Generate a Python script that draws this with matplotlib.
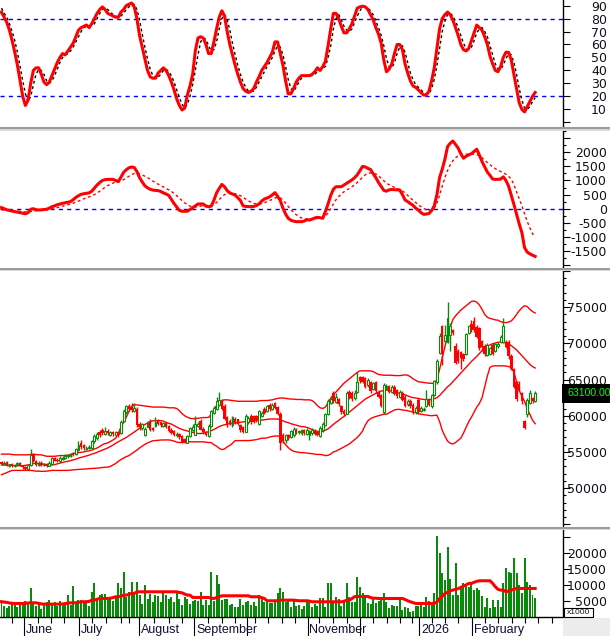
import numpy as np
import matplotlib
matplotlib.use("Agg")
import matplotlib.pyplot as plt
import matplotlib.transforms as mtransforms
from matplotlib.patches import Rectangle
from matplotlib.ticker import MultipleLocator

# ---------------- data (one value per trading day) ----------------
opens = [
    53600, 53300, 53600, 53100, 53300, 53000, 53300, 53500, 53100, 52900,
    52700, 53200, 54600, 53700, 53200, 53500, 53200, 53300, 53100, 53400,
    54100, 53900, 53700, 54000, 54100, 54400, 54400, 54900, 54700, 55300,
    56200, 55900, 55400, 55500, 55600, 56500, 56900, 57800, 58100, 57500,
    57900, 57400, 57700, 57400, 57700, 57600, 59300, 60500, 61300, 61200,
    60700, 61000, 58900, 58300, 57400, 58500, 59300, 58300, 58600, 59300,
    59100, 58600, 59000, 58600, 58100, 57900, 57300, 57500, 57200, 56800,
    56300, 57200, 58000, 57400, 58600, 59300, 58200, 57700, 57200, 58600,
    60400, 60900, 61500, 62100, 61400, 59800, 59300, 58700, 59600, 59500,
    58700, 58400, 57800, 59100, 60000, 59900, 60000, 58900, 60000, 61000,
    60700, 61500, 61000, 61700, 61200, 60300, 57300, 56600, 57300, 57000,
    57300, 58100, 57700, 57600, 58000, 57500, 57300, 57600, 58000, 57700,
    57200, 58000, 58700, 60200, 61800, 63100, 61900, 62300, 61300, 60700,
    60300, 63300, 63200, 62400, 63300, 65300, 65300, 65200, 64200, 64600,
    63700, 64600, 63300, 62800, 60500, 63700, 64100, 63300, 64000, 63500,
    62600, 63200, 62600, 61600, 62100, 61500, 60500, 62200, 60700, 60800,
    61400, 62300, 61300, 62900, 64600, 68700, 72400, 70300, 70200, 71200,
    71900, 69600, 69000, 68800, 68500, 68600, 71500, 72700, 73100, 72300,
    72100, 70300, 69700, 68400, 68600, 69800, 69000, 69600, 70200, 70200,
    70200, 70200, 68300, 66400, 64600, 64400, 63100, 59300, 60200, 61800,
    62400, 62000]
highs = [
    53800, 53700, 53700, 53400, 53500, 53400, 53600, 53600, 53200, 53000,
    53300, 55400, 54800, 53900, 53700, 53700, 53500, 53500, 53700, 54300,
    54300, 54100, 54400, 54500, 54700, 54700, 54900, 55000, 55600, 56500,
    56600, 56100, 55800, 55900, 56700, 57500, 57700, 58100, 58300, 58500,
    58200, 57900, 57900, 57900, 57800, 59400, 60900, 61500, 61600, 61700,
    61700, 61200, 59100, 59000, 58400, 59300, 59500, 58500, 59800, 59500,
    59200, 59200, 59200, 58700, 58300, 58000, 57700, 57600, 57300, 56900,
    57400, 58500, 58800, 60000, 59100, 59500, 58400, 57900, 58800, 60800,
    61400, 62600, 63300, 62300, 61600, 60000, 59500, 60000, 59800, 59600,
    58900, 58600, 60300, 60000, 60200, 60100, 60100, 60800, 60700, 61200,
    61500, 61700, 61800, 61900, 61400, 60500, 57600, 57500, 57500, 58100,
    58400, 58300, 58100, 58200, 58200, 58300, 58100, 58300, 58200, 57900,
    58600, 59100, 60400, 62300, 62700, 63400, 63200, 62500, 61500, 60900,
    63400, 63500, 63400, 63500, 66000, 65500, 65500, 65400, 65200, 64800,
    64700, 64800, 63500, 63000, 64500, 64400, 64300, 64200, 64200, 63700,
    63500, 63400, 62800, 62300, 62300, 61700, 61300, 62400, 61300, 61200,
    63500, 62500, 63000, 65000, 67800, 71400, 72600, 72600, 75700, 72800,
    72000, 70000, 69200, 69000, 68700, 71500, 72600, 73200, 73600, 72500,
    72300, 70500, 69900, 70100, 69500, 70000, 70100, 70200, 71100, 73500,
    70400, 70400, 68500, 66600, 64800, 64800, 63300, 59400, 62400, 63600,
    62600, 63400]
lows = [
    53200, 53200, 53000, 52900, 52900, 52900, 53200, 53000, 52700, 52500,
    52600, 53100, 53600, 53100, 53000, 53000, 53100, 52900, 53000, 53300,
    53700, 53600, 53600, 53900, 54000, 54200, 54300, 54400, 54600, 55100,
    55400, 55300, 55200, 55400, 55500, 56300, 56700, 57100, 57400, 57300,
    57300, 57200, 57200, 57300, 57100, 57500, 59100, 60300, 60700, 60500,
    60500, 58500, 58100, 58100, 57200, 58400, 57900, 57900, 58500, 58700,
    58500, 58400, 58300, 57800, 57500, 57200, 57100, 56800, 56200, 56200,
    56200, 57100, 57900, 57300, 58400, 58000, 57500, 57200, 57000, 58500,
    60200, 60800, 61300, 60800, 59400, 58500, 58700, 58500, 58800, 58700,
    57700, 57600, 57700, 58900, 58900, 59000, 59200, 58700, 59800, 60200,
    60500, 60700, 60800, 60900, 60100, 55300, 56300, 56300, 56600, 56900,
    57100, 57500, 57500, 57400, 57400, 57300, 56700, 57400, 57300, 57200,
    57000, 57800, 58600, 60100, 61600, 61800, 61700, 61400, 60200, 60000,
    60200, 62300, 62100, 62200, 63100, 64500, 64500, 63800, 64000, 63200,
    63500, 63200, 62400, 61200, 60300, 63500, 63100, 63100, 62800, 62500,
    62400, 62000, 61200, 61400, 61100, 60200, 60300, 60300, 60500, 60600,
    61200, 61300, 61100, 62700, 64400, 68500, 67000, 70100, 70000, 69000,
    71200, 67100, 67300, 66400, 67600, 68400, 71300, 71600, 71600, 70700,
    69100, 68900, 68300, 68200, 68400, 68400, 68800, 69400, 70000, 70000,
    69300, 67900, 66300, 63800, 62000, 63400, 61600, 58200, 59800, 61600,
    61800, 61900]
closes = [
    53300, 53500, 53100, 53300, 53000, 53200, 53400, 53100, 52900, 52700,
    53200, 54600, 53700, 53200, 53400, 53200, 53300, 53100, 53500, 54100,
    53800, 53800, 54200, 54200, 54400, 54500, 54700, 54600, 55400, 55900,
    55700, 55500, 55600, 55700, 56500, 57200, 57500, 57300, 57600, 57900,
    57600, 57700, 57500, 57700, 57300, 59200, 60600, 61300, 60900, 60800,
    61100, 58700, 58400, 58800, 58200, 59100, 58000, 58100, 59200, 58900,
    58700, 59000, 58500, 57900, 57600, 57400, 57500, 57000, 56400, 56300,
    57200, 58300, 58400, 58800, 58900, 58100, 57700, 57400, 58600, 60600,
    61100, 62000, 62200, 61000, 59600, 58700, 58900, 59800, 59000, 58900,
    58000, 57800, 60000, 59700, 59100, 59200, 59400, 60600, 60400, 60400,
    61300, 60900, 61500, 61100, 60300, 56300, 56700, 57300, 56900, 57900,
    58200, 57700, 57900, 58000, 57600, 58000, 57900, 58100, 57500, 57400,
    58300, 58900, 60200, 62000, 62300, 62000, 62600, 61600, 60500, 60300,
    63200, 62500, 62300, 63200, 64600, 64800, 64700, 64000, 65000, 63400,
    64500, 63400, 62600, 61400, 64300, 64100, 63300, 64000, 63000, 62700,
    63300, 62200, 61400, 62100, 61300, 60500, 61100, 60500, 61100, 61000,
    62300, 61500, 62800, 64800, 67500, 71000, 68700, 71200, 73500, 72400,
    71400, 67300, 67500, 68000, 67800, 71300, 72400, 71800, 71800, 70900,
    69300, 69500, 68500, 69800, 69300, 68600, 69900, 69900, 70900, 72400,
    69500, 68300, 66500, 64000, 62300, 63600, 62000, 58300, 62200, 63100,
    62000, 63100]

bb_upper = [
    54700, 54700, 54700, 54700, 54650, 54600, 54600, 54600, 54600, 54600,
    54600, 54650, 54650, 54650, 54600, 54600, 54500, 54400, 54400, 54400,
    54400, 54450, 54500, 54500, 54500, 54550, 54650, 54750, 54850, 54900,
    54950, 55000, 55100, 55150, 55250, 55400, 55550, 55750, 56000, 56150,
    56250, 56450, 56650, 56900, 57600, 58400, 59100, 59800, 60600, 61300,
    61550, 61500, 61450, 61400, 61350, 61300, 61250, 61200, 61200, 61200,
    61200, 61200, 61150, 61100, 61100, 61100, 61000, 60700, 60300, 60000,
    59800, 59650, 59600, 59600, 59650, 59700, 59750, 59750, 59770, 60200,
    60800, 61400, 61800, 62100, 62200, 62200, 62150, 62100, 62050, 62000,
    62000, 62000, 62000, 62000, 62000, 62000, 62000, 62050, 62100, 62100,
    62100, 62150, 62200, 62300, 62400, 62450, 62450, 62400, 62350, 62300,
    62300, 62250, 62250, 62250, 62200, 62200, 62200, 62100, 61800, 61400,
    61100, 61000, 61200, 61800, 62400, 62900, 63300, 63700, 64100, 64500,
    64800, 65100, 65400, 65700, 66000, 66200, 66200, 66200, 66200, 66200,
    66100, 65900, 65700, 65650, 65600, 65600, 65600, 65600, 65550, 65550,
    65550, 65600, 65650, 65600, 65400, 65100, 64900, 64700, 64650, 64600,
    64550, 64500, 64480, 64480, 65000, 66400, 68000, 69500, 71000, 72200,
    73300, 73800, 74200, 74600, 74900, 75200, 75500, 75800, 75850, 75700,
    75300, 74700, 74000, 73600, 73450, 73350, 73250, 73200, 73000, 72900,
    72870, 72950, 73100, 73500, 74000, 74500, 74900, 75200, 75100, 74700,
    74400, 74200]
bb_middle = [
    53200, 53200, 53200, 53150, 53150, 53100, 53100, 53100, 53100, 53150,
    53200, 53300, 53400, 53430, 53400, 53350, 53300, 53250, 53200, 53200,
    53250, 53350, 53450, 53550, 53650, 53700, 53800, 53900, 54000, 54150,
    54250, 54350, 54450, 54550, 54700, 54800, 54950, 55100, 55250, 55400,
    55550, 55750, 55950, 56200, 56400, 56600, 56800, 57000, 57250, 57500,
    57750, 58000, 58300, 58550, 58800, 59000, 59200, 59300, 59330, 59330,
    59330, 59250, 59100, 58950, 58850, 58650, 58450, 58250, 58100, 58000,
    57900, 57800, 57700, 57600, 57550, 57550, 57600, 57700, 57800, 57950,
    58100, 58300, 58500, 58650, 58750, 58850, 58900, 58950, 59000, 59050,
    59100, 59150, 59200, 59250, 59300, 59330, 59350, 59400, 59400, 59450,
    59500, 59550, 59550, 59550, 59550, 59450, 59300, 59150, 59050, 58900,
    58800, 58700, 58600, 58500, 58480, 58400, 58250, 58100, 57950, 57850,
    57820, 57850, 58000, 58200, 58500, 58800, 59100, 59350, 59650, 59900,
    60200, 60500, 60800, 61100, 61400, 61700, 62000, 62300, 62500, 62700,
    62900, 63100, 63250, 63400, 63500, 63550, 63500, 63400, 63300, 63200,
    63100, 63000, 62900, 62750, 62600, 62500, 62450, 62400, 62300, 62250,
    62210, 62200, 62250, 62350, 62500, 62800, 63200, 63600, 64000, 64300,
    64700, 65100, 65500, 65900, 66300, 66700, 67100, 67500, 67850, 68200,
    68600, 69000, 69350, 69600, 69800, 69950, 70050, 70150, 70200, 70150,
    70050, 69900, 69700, 69400, 69100, 68700, 68300, 67900, 67500, 67100,
    66800, 66600]
bb_lower = [
    51850, 52000, 52150, 52300, 52450, 52450, 52450, 52450, 52450, 52450,
    52450, 52450, 52400, 52350, 52350, 52320, 52320, 52350, 52400, 52450,
    52450, 52450, 52450, 52450, 52450, 52450, 52480, 52520, 52560, 52580,
    52600, 52620, 52650, 52700, 52720, 52750, 52760, 52800, 52850, 52890,
    52900, 53000, 53200, 53400, 53700, 53950, 54150, 54350, 54500, 54750,
    55000, 55250, 55550, 55800, 56050, 56250, 56400, 56550, 56570, 56600,
    56650, 56660, 56660, 56660, 56600, 56500, 56350, 56310, 56310, 56350,
    56400, 56400, 56400, 56400, 56400, 56400, 56400, 56350, 56300, 56300,
    56000, 55800, 55500, 55330, 55400, 55700, 55900, 56200, 56570, 56570,
    56570, 56570, 56570, 56570, 56600, 56650, 56700, 56800, 56900, 56900,
    56950, 57050, 57150, 57200, 57200, 57150, 56500, 56000, 55600, 55300,
    55100, 55000, 54950, 54900, 54890, 54850, 54800, 54750, 54700, 54650,
    54660, 54600, 54500, 54530, 54700, 55000, 55110, 55300, 55500, 55700,
    55900, 56100, 56400, 56700, 57000, 57400, 57900, 58700, 59300, 59600,
    59770, 59900, 60000, 60100, 60210, 60210, 60400, 60600, 60800, 60880,
    60880, 60800, 60750, 60700, 60600, 60500, 60440, 60300, 60210, 60150,
    60100, 60050, 60000, 60050, 60080, 59200, 58000, 57200, 56500, 56200,
    56100, 56300, 56600, 56900, 57600, 58400, 59200, 59800, 60500, 61200,
    61700, 62500, 64000, 65500, 66700, 66870, 66900, 66900, 66900, 66900,
    66870, 66800, 66650, 66000, 64700, 63500, 62700, 62000, 61000, 60200,
    59400, 58900]

stoch_k = [
    85, 81, 77, 71, 63, 54, 44, 32, 20, 13,
    17, 30, 40, 42, 42, 37, 31, 29, 31, 36,
    41, 46, 50, 53, 52, 55, 58, 61, 66, 71,
    73, 74, 75, 73, 76, 80, 84, 87, 89, 87,
    84, 83, 82, 81, 81, 85, 87, 90, 91, 92,
    89, 80, 67, 58, 49, 40, 35, 34, 34, 38,
    40, 42, 40, 36, 31, 25, 18, 13, 9.5, 11,
    21, 28, 37, 55, 65, 66, 65, 60, 53, 53,
    62, 72, 81, 86, 82, 70, 60, 52, 44, 37,
    31, 26, 24, 23, 24, 26, 31, 35, 40, 43,
    46, 50, 54, 62, 62, 53, 44, 32, 22, 22,
    26, 31, 34, 36, 36, 36, 36, 37, 39, 42,
    40, 43, 47, 59, 72, 84, 84, 80, 74, 69,
    69, 72, 76, 82, 88, 89, 89.5, 89, 87, 83,
    79, 73, 68, 61, 48, 39, 41, 45, 53, 60,
    60, 56, 45, 38, 32, 28, 27, 25, 23, 21,
    21, 24, 32, 42, 57, 72, 80, 83, 85, 83,
    79, 73, 67, 60, 56, 55, 57, 63, 69, 75,
    73, 71, 66, 60, 51, 45, 40, 39, 43, 50,
    54, 54, 48, 37, 26, 15, 10, 8, 12, 16,
    20, 23]
stoch_d = [
    88, 84, 81, 76, 70, 63, 54, 43, 32, 22,
    16, 20, 29, 37, 41, 40, 37, 32, 30, 32,
    36, 41, 46, 50, 52, 53, 55, 58, 62, 66,
    70, 73, 74, 74, 75, 76, 80, 84, 87, 88,
    87, 85, 83, 82, 81, 82, 84, 87, 89, 91,
    91, 87, 79, 68, 58, 49, 41, 36, 34, 35,
    37, 40, 41, 39, 36, 31, 25, 19, 14, 11,
    14, 20, 29, 40, 52, 62, 65, 64, 59, 55,
    56, 62, 72, 80, 83, 79, 71, 61, 52, 44,
    37, 31, 27, 24, 24, 24, 27, 31, 35, 39,
    43, 46, 50, 55, 59, 58, 52, 43, 33, 26,
    24, 27, 31, 34, 35, 36, 36, 36, 37, 39,
    40, 42, 43, 50, 59, 72, 80, 83, 79, 74,
    71, 70, 72, 77, 82, 86, 89, 89, 88, 86,
    83, 78, 73, 67, 59, 49, 43, 42, 46, 53,
    58, 59, 54, 46, 38, 33, 29, 27, 25, 23,
    22, 22, 26, 33, 44, 57, 70, 78, 83, 84,
    82, 78, 73, 67, 61, 57, 56, 58, 63, 69,
    72, 73, 70, 66, 59, 52, 45, 41, 41, 44,
    49, 53, 52, 46, 37, 26, 17, 11, 10, 12,
    16, 19]

macd = [
    40, 0, -40, -60, -85, -105, -120, -140, -160, -180,
    -140, -20, 0, -40, -45, -40, -30, -20, 20, 70,
    100, 140, 165, 190, 210, 230, 250, 320, 400, 460,
    510, 530, 545, 560, 620, 730, 840, 930, 1000, 1030,
    1040, 1040, 1040, 1000, 960, 1120, 1290, 1380, 1450, 1480,
    1460, 1320, 1100, 950, 810, 740, 690, 660, 650, 640,
    610, 560, 520, 470, 330, 180, 60, -60, -90, -90,
    -90, -30, 30, 100, 165, 170, 165, 90, 70, 90,
    300, 560, 720, 860, 780, 640, 560, 520, 480, 390,
    290, 100, 80, 75, 70, 80, 110, 170, 270, 340,
    380, 420, 490, 567, 440, 290, 20, -190, -340, -410,
    -440, -460, -460, -460, -440, -390, -400, -370, -330, -305,
    -320, -340, -100, 170, 470, 690, 780, 780, 780, 840,
    900, 960, 1020, 1100, 1200, 1350, 1500, 1480, 1430, 1390,
    1240, 1100, 930, 790, 650, 620, 670, 680, 675, 670,
    663, 500, 309, 250, 180, 120, 20, -50, -140, -200,
    -190, -170, -70, 100, 500, 1100, 1400, 1750, 2200, 2320,
    2400, 2280, 2150, 1950, 1790, 1860, 1910, 1950, 2030, 2110,
    1900, 1670, 1480, 1300, 1180, 1050, 1040, 1040, 1050, 1130,
    1000, 800, 480, 150, -200, -540, -850, -1380, -1540, -1600,
    -1650, -1690]
macd_signal = [
    -40, -50, -60, -70, -75, -80, -85, -95, -105, -115,
    -120, -100, -80, -70, -65, -60, -50, -40, -30, -10,
    10, 40, 65, 90, 115, 140, 165, 195, 230, 270,
    310, 350, 390, 420, 450, 500, 560, 620, 690, 760,
    820, 870, 910, 940, 950, 980, 1030, 1090, 1150, 1210,
    1250, 1260, 1240, 1200, 1150, 1100, 1040, 980, 920, 870,
    820, 770, 720, 670, 610, 540, 460, 370, 290, 210,
    140, 90, 60, 60, 70, 90, 110, 115, 110, 105,
    140, 220, 320, 420, 500, 540, 550, 545, 530, 500,
    460, 400, 340, 280, 230, 190, 170, 160, 180, 210,
    250, 290, 330, 380, 400, 380, 310, 200, 80, -30,
    -130, -210, -280, -330, -360, -370, -380, -370, -360, -345,
    -330, -320, -270, -150, 0, 170, 320, 430, 520, 600,
    660, 720, 780, 850, 930, 1020, 1120, 1200, 1250, 1270,
    1260, 1230, 1170, 1080, 990, 900, 850, 800, 760, 720,
    680, 630, 560, 470, 380, 300, 220, 140, 70, 10,
    -40, -60, -50, 20, 200, 480, 800, 1100, 1350, 1550,
    1700, 1800, 1880, 1920, 1930, 1930, 1940, 1940, 1930, 1920,
    1880, 1800, 1720, 1640, 1560, 1480, 1420, 1360, 1320, 1280,
    1220, 1150, 1050, 850, 600, 350, 100, -180, -450, -680,
    -880, -1010]

volume = [
    5300, 3430, 2700, 3430, 4780, 4250, 3000, 4100, 4100, 5100,
    4780, 9000, 4250, 3430, 4100, 2400, 4100, 4780, 5300, 3740,
    4780, 3430, 5100, 3740, 3740, 6900, 3740, 9700, 4780, 5300,
    5300, 5100, 4780, 3430, 7900, 10550, 5300, 6900, 7200, 7200,
    5300, 6350, 5100, 6350, 10550, 9000, 14200, 6350, 7900, 11080,
    7900, 11080, 6900, 4100, 10200, 5800, 7200, 4780, 6900, 6500,
    4780, 7900, 6900, 5800, 6350, 4780, 7400, 5800, 3900, 6300,
    5600, 4200, 5100, 5300, 5100, 7900, 3900, 5300, 3700, 14200,
    5100, 13200, 10500, 5300, 5800, 5600, 3700, 4000, 3200, 3000,
    5800, 3700, 4800, 5000, 3700, 4800, 3400, 6900, 5500, 4800,
    4780, 4450, 4450, 5400, 7400, 9200, 7800, 4780, 5800, 3000,
    5100, 3500, 3700, 2400, 3430, 5100, 5100, 3220, 4100, 3430,
    5820, 5820, 3000, 10540, 10750, 4250, 6350, 5500, 3430, 5300,
    10540, 6350, 4780, 4780, 12630, 9500, 7600, 6350, 4250, 4050,
    5820, 4250, 5100, 5820, 7400, 4780, 2700, 3740, 3430, 3430,
    5300, 2170, 3000, 2700, 1650, 1960, 3430, 3430, 4780, 3220,
    6350, 5100, 4780, 7400, 25440, 20000, 13800, 11600, 22080, 11800,
    6900, 16860, 6900, 8970, 10540, 10000, 9500, 11080, 8450, 8970,
    8450, 6560, 3220, 5820, 2700, 5300, 3000, 5300, 3220, 10540,
    15280, 14200, 13680, 18400, 13900, 10000, 7400, 18400, 11080, 10000,
    6900, 5820]
volume_ma = [
    4780, 4700, 4600, 4400, 4300, 4250, 4250, 4250, 4250, 4300,
    4400, 4460, 4460, 4460, 4300, 4100, 4040, 4040, 4040, 4040,
    4040, 4040, 4040, 4100, 4200, 4400, 4460, 4460, 4460, 4600,
    4780, 4780, 4800, 4900, 5300, 5300, 5600, 5800, 5820, 5820,
    5820, 5900, 6100, 6350, 6350, 6500, 6870, 6870, 7100, 7400,
    7400, 7900, 7920, 7920, 7920, 7920, 7920, 7920, 7920, 7920,
    7920, 7920, 7920, 7920, 7920, 7920, 7920, 7700, 7600, 7200,
    6870, 6870, 6140, 6140, 6140, 6140, 6140, 6140, 6140, 5900,
    5820, 6100, 6350, 6660, 6660, 6660, 6660, 6660, 6660, 6660,
    6660, 6660, 6660, 6660, 6350, 6350, 6350, 6350, 6100, 5820,
    5100, 5100, 5100, 5100, 5100, 5300, 5300, 5300, 5300, 5300,
    5300, 5200, 5100, 5100, 5100, 5100, 5000, 4780, 4780, 4780,
    4780, 4780, 4780, 4780, 4780, 4780, 4780, 4780, 4780, 4900,
    5300, 5300, 5800, 6400, 6460, 6460, 6460, 6460, 6460, 6100,
    5900, 5900, 5820, 5820, 5820, 5820, 5820, 5820, 5820, 5820,
    5820, 5820, 5500, 5100, 4780, 4500, 4250, 4250, 4250, 4250,
    4250, 4250, 4250, 4300, 4700, 5820, 6500, 7400, 7800, 8200,
    8450, 8700, 8900, 9290, 9700, 10100, 10540, 10540, 10900, 11200,
    11380, 11380, 11380, 11380, 11380, 10540, 9500, 8700, 8450, 8450,
    7920, 8200, 8450, 8700, 8970, 8970, 8970, 8970, 8970, 8970,
    8970, 8970]

# x axis: month starts and weekly ticks, in bar units
month_labels = ["June", "July", "August", "September", "", "November", "", "2026", "February"]
month_ticks = [8.6, 29.2, 51.9, 72.6, 92.4, 115.3, 135.0, 157.4, 177.1]
week_ticks = [3.8, 13.6, 18.5, 23.7, 34.0, 39.4, 45.0, 48.0, 57.4, 63.1, 67.9,
              77.8, 83.0, 88.0, 95.5, 100.4, 105.5, 110.5, 119.7, 124.9, 130.0,
              139.9, 145.1, 150.1, 154.5, 162.0, 167.0, 172.0, 182.1, 187.1,
              192.2, 197.2, 202.2, 207.2]

# ---------------- layout ----------------
W, H = 610, 636
fig = plt.figure(figsize=(W / 100, H / 100), dpi=100)
fig.patch.set_facecolor("white")

AXIS_X = 562.5          # pixel column of the right axis
BAR_PX = 2.655          # pixels per trading day
FIRST_PX = 1.5
XLIM = (-FIRST_PX / BAR_PX, (AXIS_X - FIRST_PX) / BAR_PX)

GREEN = "#0a8a0a"
RED = "#ff0000"
BLUE = "#0000ff"
LABEL_FONT = "DejaVu Sans"
TICK_LEN = 5.0          # points
LABEL_RIGHT = 607.0     # pixel where the tick labels end
PAD = (LABEL_RIGHT - AXIS_X) * 0.72 - TICK_LEN

x = np.arange(len(closes))


def panel(top, bottom, ylim, ticks, labelled):
    ax = fig.add_axes([0, 1 - bottom / H, AXIS_X / W, (bottom - top) / H])
    ax.set_xlim(*XLIM)
    ax.set_ylim(*ylim)
    for s in ("top", "left", "bottom"):
        ax.spines[s].set_visible(False)
    ax.spines["right"].set_linewidth(1.0)
    ax.spines["right"].set_color("black")
    ax.yaxis.tick_right()
    ax.set_yticks(ticks)
    ax.set_yticklabels([str(t) if t in labelled else "" for t in ticks],
                       fontsize=9, family=LABEL_FONT, color="#101018")
    ax.tick_params(axis="y", which="major", length=TICK_LEN, width=0.8, pad=PAD)
    ax.tick_params(axis="y", which="minor", length=2.5, width=0.8)
    plt.setp(ax.get_yticklabels(), ha="right")
    ax.set_xticks([])
    return ax


# stochastic
ax1 = panel(0, 127.5, (-4.0, 94.3), list(range(0, 91, 10)), list(range(10, 91, 10)))
ax1.axhline(80, color=BLUE, lw=1, dashes=(3, 3))
ax1.axhline(20, color=BLUE, lw=1, dashes=(3, 3))
ax1.plot(x, stoch_d, color="black", lw=1, dashes=(2, 2))
ax1.plot(x, stoch_k, color=RED, lw=2.2)

# MACD
ax2 = panel(130.5, 268, (-2103, 2773), list(range(-2000, 2501, 500)),
            list(range(-1500, 2001, 500)))
ax2.yaxis.set_minor_locator(MultipleLocator(250))
ax2.axhline(0, color=BLUE, lw=1, dashes=(3, 3))
ax2.plot(x, macd_signal, color=RED, lw=1, dashes=(2, 2))
ax2.plot(x, macd, color=RED, lw=2.2)

# price with Bollinger bands
ax3 = panel(271, 527, (44630, 78730), list(range(45000, 80001, 5000)),
            list(range(50000, 75001, 5000)))
ax3.yaxis.set_minor_locator(MultipleLocator(1000))
for band in (bb_upper, bb_middle, bb_lower):
    ax3.plot(x, band, color=RED, lw=1)

o = np.array(opens)
c = np.array(closes)
hi = np.array(highs)
lo = np.array(lows)
up = c >= o
ax3.vlines(x[up], lo[up], hi[up], color=GREEN, lw=1, zorder=3)
ax3.vlines(x[~up], lo[~up], hi[~up], color=RED, lw=1, zorder=3)
body = np.maximum(np.abs(c - o), 130)
ax3.bar(x[up], body[up], bottom=o[up], width=0.72, facecolor="white",
        edgecolor=GREEN, linewidth=0.8, zorder=4)
ax3.bar(x[~up], body[~up], bottom=c[~up], width=0.95, color=RED,
        linewidth=0, zorder=4)

# last price tag
tag = mtransforms.blended_transform_factory(ax3.transAxes, ax3.transData)
ax3.text(567 / AXIS_X, closes[-1], f"{closes[-1]:.2f}", transform=tag,
         fontsize=7.6, family="Liberation Sans", color="#00ff00", va="center",
         ha="left", clip_on=False, zorder=10,
         bbox=dict(boxstyle="square,pad=0.45", fc="black", ec="none"))

# volume
ax4 = panel(530, 617, (0, 27330), [5000, 10000, 15000, 20000, 25000],
            [5000, 10000, 15000, 20000])
ax4.bar(x, volume, width=0.75, color=GREEN, linewidth=0)
ax4.plot(x, volume_ma, color=RED, lw=2.2)
ax4.spines["bottom"].set_visible(True)
ax4.spines["bottom"].set_color("black")
ax4.spines["bottom"].set_linewidth(1.0)
ax4.set_xticks(month_ticks)
ax4.set_xticks(week_ticks, minor=True)
ax4.set_xticklabels([])
ax4.tick_params(axis="x", which="major", direction="out", length=13.7,
                width=0.8, color="black")
ax4.tick_params(axis="x", which="minor", direction="out", length=4.0,
                width=0.8, color="black")
mlab = mtransforms.blended_transform_factory(ax4.transData, fig.transFigure)
for pos, lab in zip(month_ticks, month_labels):
    ax4.text(pos + 0.7, 1 - 633 / H, lab, transform=mlab, fontsize=9,
             family="Liberation Sans", color="#101030", va="baseline",
             ha="left", clip_on=False)

# ---------------- frame decorations ----------------
def fig_rect(x0, y0, x1, y1, **kw):
    fig.patches.append(Rectangle((x0 / W, 1 - y1 / H), (x1 - x0) / W,
                                 (y1 - y0) / H, transform=fig.transFigure, **kw))

for ytop in (127.5, 268, 527):
    fig_rect(0, ytop, W, ytop + 1.5, facecolor="#9c9c9c", edgecolor="none", zorder=5)
    fig_rect(0, ytop + 1.5, W, ytop + 3, facecolor="#d8d8d8", edgecolor="none", zorder=5)

fig_rect(563, 617.5, W, H, facecolor="#ececec", edgecolor="none", zorder=5)
fig_rect(564, 607.5, 593, 617, facecolor="white", edgecolor="black", linewidth=0.8, zorder=6)
fig.text(566.5 / W, 1 - 613 / H, "x1000", fontsize=6, family="Liberation Sans",
         color="#101030", va="center", ha="left", zorder=7)

fig.savefig("out.png", dpi=100)
